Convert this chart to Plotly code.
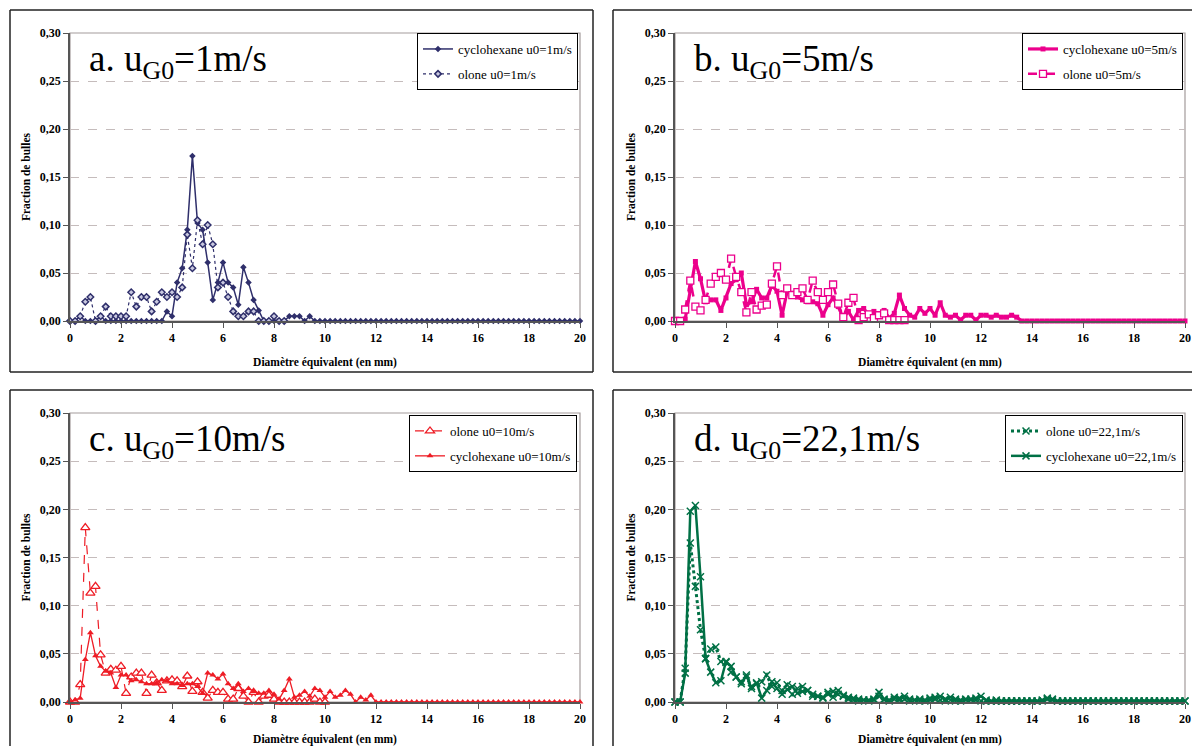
import plotly.graph_objects as go

# Full-window figure; the page body margin is removed by a post script.
W, H = 1192, 746
OFF = 0

# ---------------- data (x step 0.2 mm) ----------------
diam = [round(0.2 * i, 1) for i in range(101)]

# a. uG0 = 1 m/s
a_cyclo = [0, 0, 0.005, 0, 0, 0, 0.005, 0, 0, 0,
           0, 0, 0, 0, 0, 0, 0, 0, 0, 0.01,
           0.005, 0.04, 0.055, 0.095, 0.172, 0.102, 0.095, 0.061, 0.022, 0.04,
           0.061, 0.04, 0.035, 0.017, 0.056, 0.04, 0.022, 0.011, 0, 0,
           0, 0, 0, 0.005, 0.005, 0.005, 0, 0.005, 0, 0,
           0, 0, 0, 0, 0, 0, 0, 0, 0, 0,
           0, 0, 0, 0, 0, 0, 0, 0, 0, 0,
           0, 0, 0, 0, 0, 0, 0, 0, 0, 0,
           0, 0, 0, 0, 0, 0, 0, 0, 0, 0,
           0, 0, 0, 0, 0, 0, 0, 0, 0, 0,
           0]
a_olone = [0, 0, 0.005, 0.02, 0.025, 0, 0.005, 0.015, 0.005, 0.005,
           0.005, 0.005, 0.03, 0.015, 0.025, 0.025, 0.01, 0.02, 0.03, 0.025,
           0.03, 0.025, 0.035, 0.09, 0.055, 0.105, 0.08, 0.10, 0.08, 0.035,
           0.04, 0.025, 0.01, 0.005, 0.005, 0.01, 0.01, 0, 0, 0,
           0.005, 0, 0]

# b. uG0 = 5 m/s
b_cyclo = [0, 0, 0.002, 0.032, 0.062, 0.044, 0.02, 0.022, 0.022, 0.011,
           0.024, 0.039, 0.043, 0.05, 0.017, 0.02, 0.033, 0.024, 0.024, 0.037,
           0.031, 0.006, 0.031, 0.029, 0.025, 0.022, 0.02, 0.02, 0.018, 0.006,
           0.017, 0.024, 0.015, 0.003, 0.01, 0.001, 0.011, 0.013, 0.006, 0.01,
           0.005, 0.011, 0.003, 0.008, 0.027, 0.013, 0.006, 0.004, 0.013, 0.008,
           0.013, 0.006, 0.019, 0.006, 0.004, 0.006, 0.001, 0.006, 0.006, 0.001,
           0.006, 0.006, 0.004, 0.006, 0.004, 0.004, 0.006, 0.004, 0, 0,
           0, 0, 0, 0, 0, 0, 0, 0, 0, 0,
           0, 0, 0, 0, 0, 0, 0, 0, 0, 0,
           0, 0, 0, 0, 0, 0, 0, 0, 0, 0,
           0]
b_olone = [0, 0, 0.012, 0.042, 0.015, 0.011, 0.022, 0.039, 0.046, 0.05,
           0.043, 0.065, 0.046, 0.03, 0.009, 0.03, 0.012, 0.016, 0.017, 0.039,
           0.057, 0.027, 0.034, 0.027, 0.03, 0.034, 0.022, 0.042, 0.03, 0.022,
           0.03, 0.038, 0.018, 0.004, 0.019, 0.024, 0.001, 0.004, 0.007, 0.003,
           0.006, 0.008, 0.001, 0.001, 0.001, 0.001]

# c. uG0 = 10 m/s
c_olone = [0, 0, 0.018, 0.181, 0.113, 0.12, 0.049, 0.03, 0.034, 0.033,
           0.037, 0.009, 0.026, 0.03, 0.03, 0.009, 0.028, 0.02, 0.012, 0.022,
           0.023, 0.022, 0.016, 0.027, 0.011, 0.021, 0.01, 0.004, 0.012, 0.01,
           0.01, 0.003, 0.003, 0.014, 0.006, 0, 0.01, 0, 0.006, 0.007,
           0.003, 0, 0, 0, 0, 0, 0, 0, 0.003, 0,
           0]
c_cyclo = [0, 0.002, 0.004, 0.044, 0.072, 0.048, 0.037, 0.032, 0.03, 0.015,
           0.028, 0.028, 0.022, 0.023, 0.021, 0.019, 0.019, 0.02, 0.023, 0.022,
           0.019, 0.019, 0.017, 0.019, 0.019, 0.016, 0.009, 0.03, 0.028, 0.024,
           0.029, 0.019, 0.014, 0.019, 0.011, 0.014, 0.011, 0.009, 0.009, 0.012,
           0.008, 0.003, 0.012, 0.024, 0.005, 0.007, 0.011, 0.006, 0.014, 0.012,
           0.005, 0.011, 0.005, 0.007, 0.012, 0.008, 0, 0.005, 0.002, 0.007,
           0, 0, 0, 0, 0, 0, 0, 0, 0, 0,
           0, 0, 0, 0, 0, 0, 0, 0, 0, 0,
           0, 0, 0, 0, 0, 0, 0, 0, 0, 0,
           0, 0, 0, 0, 0, 0, 0, 0, 0, 0,
           0]

# d. uG0 = 22,1 m/s
d_olone = [0, 0, 0.035, 0.165, 0.12, 0.075, 0.045, 0.055, 0.057, 0.042,
           0.041, 0.031, 0.026, 0.021, 0.026, 0.016, 0.019, 0.021, 0.028, 0.016,
           0.02, 0.012, 0.018, 0.008, 0.014, 0.016, 0.012, 0.008, 0.006, 0.005,
           0.008, 0.011, 0.008, 0.006, 0.003, 0.002, 0.001, 0.002, 0.001, 0.002,
           0.006, 0.002, 0.001, 0.003, 0.002, 0.003, 0.001, 0.002, 0.001, 0.001,
           0.002, 0.003, 0.002, 0.001, 0.002, 0.001, 0.001, 0.002, 0.003, 0.002,
           0.001, 0.001, 0.001, 0.002, 0.001, 0.001, 0.001, 0.001, 0.001, 0.001,
           0.001, 0.001, 0.002, 0.003, 0.002, 0.001, 0.001, 0.001, 0.001, 0.001,
           0.001, 0.001, 0.001, 0.001, 0.001, 0.001, 0.001, 0.001, 0.001, 0.001,
           0.001, 0.001, 0.001, 0.001, 0.001, 0.001, 0.001, 0.001, 0.001, 0.001,
           0.001]
d_cyclo = [0, 0, 0.03, 0.198, 0.204, 0.13, 0.045, 0.031, 0.02, 0.022,
           0.042, 0.037, 0.026, 0.019, 0.028, 0.014, 0.02, 0.004, 0.012, 0.021,
           0.014, 0.008, 0.013, 0.016, 0.009, 0.011, 0.012, 0.006, 0.006, 0.004,
           0.01, 0.005, 0.012, 0.007, 0.005, 0.004, 0.003, 0.002, 0.002, 0.003,
           0.01, 0.003, 0.002, 0.005, 0.004, 0.006, 0.003, 0.002, 0.003, 0.002,
           0.004, 0.005, 0.006, 0.003, 0.005, 0.003, 0.002, 0.003, 0.002, 0.004,
           0.006, 0.002, 0.001, 0.001, 0.001, 0.001, 0.001, 0.001, 0.001, 0.001,
           0.001, 0.001, 0.001, 0.004, 0.003, 0.001, 0.001, 0.001, 0.001, 0.001,
           0.001, 0.001, 0.001, 0.001, 0.001, 0.001, 0.001, 0.001, 0.001, 0.001,
           0.001, 0.001, 0.001, 0.001, 0.001, 0.001, 0.001, 0.001, 0.001, 0.001,
           0.001]

y_ticks = [0, 0.05, 0.10, 0.15, 0.20, 0.25, 0.30]
x_ticks = [0, 2, 4, 6, 8, 10, 12, 14, 16, 18, 20]

NAVY = "#2f2f6b"
MAG = "#ec008c"
RED = "#ee1c25"
GREEN = "#007045"
SERIF = "Liberation Serif"

# --------------- geometry (window pixels -> paper) ---------------
def px_x(v):
    return (v - OFF) / W

def px_y(v):
    return 1 - (v - OFF) / H

panels = {
    "a": dict(x0=70, x1=580, y0=33, y1=321),
    "b": dict(x0=675, x1=1185, y0=33, y1=321),
    "c": dict(x0=70, x1=580, y0=413, y1=702),
    "d": dict(x0=675, x1=1185, y0=413, y1=702),
}

fig = go.Figure()

def add(xs, ys, name, xa, ya, legend, **kw):
    fig.add_trace(go.Scatter(x=xs[:len(ys)], y=ys, name=name, xaxis=xa, yaxis=ya,
                             legend=legend, legendgroup=name, cliponaxis=False,
                             mode="lines+markers", hoverinfo="skip", **kw))

# a
add(diam, a_cyclo, "cyclohexane u0=1m/s", "x", "y", "legend",
    line=dict(color=NAVY, width=1.5),
    marker=dict(symbol="diamond", size=5, color=NAVY))
add(diam, a_olone, "olone u0=1m/s", "x", "y", "legend",
    line=dict(color=NAVY, width=1.2, dash="dot"),
    marker=dict(symbol="diamond", size=5, color="#c9c9e0", line=dict(color=NAVY, width=1.5)))
# b
add(diam, b_cyclo, "cyclohexane u0=5m/s", "x2", "y2", "legend2",
    line=dict(color=MAG, width=3.2),
    marker=dict(symbol="square", size=5, color=MAG))
add(diam, b_olone, "olone u0=5m/s", "x2", "y2", "legend2",
    line=dict(color=MAG, width=2.5, dash="dash"),
    marker=dict(symbol="square", size=7, color="white", line=dict(color=MAG, width=1.3)))
# c
add(diam, c_olone, "olone u0=10m/s", "x3", "y3", "legend3",
    line=dict(color=RED, width=1.2, dash="dash"),
    marker=dict(symbol="triangle-up", size=8, color="white", line=dict(color=RED, width=1.3)))
add(diam, c_cyclo, "cyclohexane u0=10m/s", "x3", "y3", "legend3",
    line=dict(color=RED, width=1.3),
    marker=dict(symbol="triangle-up", size=6, color=RED))
# d
add(diam, d_olone, "olone u0=22,1m/s", "x4", "y4", "legend4",
    line=dict(color=GREEN, width=3, dash="dot"),
    marker=dict(symbol="x-thin", size=7, color=GREEN, line=dict(color=GREEN, width=1.5)))
add(diam, d_cyclo, "cyclohexane u0=22,1m/s", "x4", "y4", "legend4",
    line=dict(color=GREEN, width=2.5),
    marker=dict(symbol="x-thin", size=7, color=GREEN, line=dict(color=GREEN, width=1.5)))

tick_font = dict(family=SERIF, size=12, color="black", weight="bold")
title_font = dict(family=SERIF, size=11.5, color="black", weight="bold")

layout = dict(
    width=W, height=H, margin=dict(l=0, r=0, t=0, b=0, autoexpand=False),
    paper_bgcolor="white", plot_bgcolor="white",
    separators=", ", showlegend=True,
)

shapes = []
annotations = []
titles = {"a": "a. u<sub>G0</sub>=1m/s", "b": "b. u<sub>G0</sub>=5m/s",
          "c": "c. u<sub>G0</sub>=10m/s", "d": "d. u<sub>G0</sub>=22,1m/s"}
legend_boxes = {"a": (578, 33), "b": (1183, 33), "c": (577, 415), "d": (1183, 415)}
legend_keys = {"a": "legend", "b": "legend2", "c": "legend3", "d": "legend4"}

for i, (k, g) in enumerate(panels.items()):
    sfx = "" if i == 0 else str(i + 1)
    xdom = [px_x(g["x0"]), px_x(g["x1"])]
    ydom = [px_y(g["y1"]), px_y(g["y0"])]
    layout["xaxis" + sfx] = dict(
        domain=xdom, range=[0, 20], tickvals=x_ticks, ticks="outside", ticklen=5,
        tickcolor="#555", showline=True, linecolor="#555", linewidth=1.5,
        showgrid=False, zeroline=False, tickfont=tick_font, automargin=False,
        ticklabeloverflow="allow", anchor="y" + sfx,
        title=dict(text="Diamètre équivalent (en mm)", font=title_font, standoff=14),
    )
    layout["yaxis" + sfx] = dict(
        domain=ydom, range=[0, 0.30], tickvals=y_ticks, tickformat=".2f",
        ticks="outside", ticklen=5, tickcolor="#555", showline=True,
        linecolor="#555", linewidth=1.5, showgrid=True, gridcolor="#c5bcbc",
        griddash="dash", gridwidth=1, zeroline=False, tickfont=tick_font,
        automargin=False, ticklabeloverflow="allow", anchor="x" + sfx,
        title=dict(text="Fraction de bulles", font=title_font, standoff=7),
    )
    shapes.append(dict(type="rect", xref="x" + sfx + " domain", yref="y" + sfx + " domain",
                       x0=0, x1=1, y0=0, y1=1, line=dict(color="#a39b9b", width=1.2),
                       layer="below"))
    annotations.append(dict(text=titles[k], xref="paper", yref="paper",
                            x=px_x(g["x0"] + 17), y=px_y(g["y0"] + 3),
                            xanchor="left", yanchor="top", showarrow=False,
                            font=dict(family=SERIF, size=37, color="black")))
    lx, ly = legend_boxes[k]
    layout[legend_keys[k]] = dict(
        x=px_x(lx), y=px_y(ly), xanchor="right", yanchor="top",
        bgcolor="white", bordercolor="black", borderwidth=1,
        font=dict(family=SERIF, size=13, color="black"),
        itemwidth=30, tracegroupgap=5,
    )

# outer panel frames (only the edges that lie inside the window)
frame_lines = [
    (10, 10, 593, 10), (10, 10, 10, 372), (593, 10, 593, 372), (10, 372, 593, 372),
    (613, 10, 1192, 10), (613, 10, 613, 372), (613, 372, 1192, 372),
    (10, 390, 593, 390), (10, 390, 10, 746), (593, 390, 593, 746),
    (613, 390, 1192, 390), (613, 390, 613, 746),
]
for (x0, y0, x1, y1) in frame_lines:
    shapes.append(dict(type="line", xref="paper", yref="paper",
                       x0=max(min(px_x(x0), 1), 0), x1=max(min(px_x(x1), 1), 0),
                       y0=max(min(px_y(y0), 1), 0), y1=max(min(px_y(y1), 1), 0),
                       line=dict(color="#222", width=1.5)))

layout["shapes"] = shapes
layout["annotations"] = annotations
fig.update_layout(**layout)
fig.write_html(
    "out.html",
    config={"displayModeBar": False},
    post_script="document.body.style.margin='0';"
                "document.body.style.overflow='hidden';"
                "document.documentElement.style.overflow='hidden';",
)
